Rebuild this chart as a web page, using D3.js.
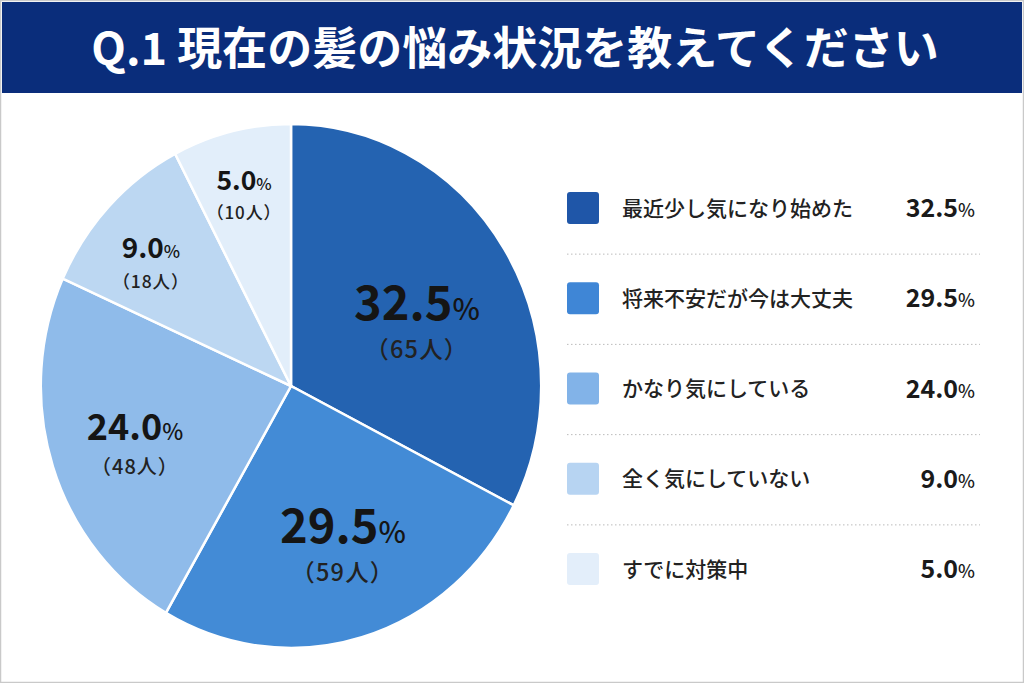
<!DOCTYPE html>
<html><head><meta charset="utf-8">
<script src="https://cdn.jsdelivr.net/npm/d3@7"></script>
<style>
html,body{margin:0;padding:0;background:#fff;}
svg{display:block;}
text{font-family:"Noto Sans CJK JP","Noto Sans",sans-serif;}
</style></head>
<body>
<svg id="chart" width="1024" height="683"></svg>
<script>
const title = "Q.1 現在の髪の悩み状況を教えてください";
const categories = ["最近少し気になり始めた","将来不安だが今は大丈夫","かなり気にしている","全く気にしていない","すでに対策中"];
const percents = [32.5, 29.5, 24.0, 9.0, 5.0];
const counts = [65, 59, 48, 18, 10];
// slice sizes as actually drawn in the reference picture (degrees)
const drawnDegrees = [117.1, 92.9, 84.2, 38.2, 27.6];
const sliceColors = ["#2463b1","#438bd6","#8fbbea","#bcd7f2","#e2eefa"];
const legendColors = ["#1f56a8","#3f86d6","#82b3e8","#b7d4f2","#e3eefa"];

const svg = d3.select("#chart");
const W = 1024, H = 683;

svg.append("rect").attr("x",0.5).attr("y",0.5).attr("width",W-1).attr("height",H-1)
  .attr("fill","#fff").attr("stroke","#c9c9c9").attr("stroke-width",1.5);
svg.append("rect").attr("x",2).attr("y",2).attr("width",W-4).attr("height",91).attr("fill","#0a2d7b");
svg.append("text").attr("x",515).attr("y",65).attr("text-anchor","middle")
  .attr("fill","#fff").attr("font-size",45).attr("font-weight",700).text(title);

// pie
const cx = 291, cy = 386, R = 262, sx = 0.955;
const pie = d3.pie().sort(null).value(d=>d)(drawnDegrees);
const arc = d3.arc().innerRadius(0).outerRadius(R);
const g = svg.append("g").attr("transform",`translate(${cx},${cy}) scale(${sx},1)`);
g.selectAll("path").data(pie).enter().append("path")
  .attr("d",arc).attr("fill",(d,i)=>sliceColors[i])
  .attr("stroke","#fff").attr("stroke-width",2.5).attr("vector-effect","non-scaling-stroke");

// label layout tweaks (angle offset in degrees, radius fraction, font sizes, line gap)
const lblAngle = [4.85, -2.65, -0.4, -2.2, -0.3];
const lblRad = [0.563, 0.634, 0.657, 0.743, 0.77];
const bigSize = [47, 47, 36, 28, 26.5];
const subSize = [23.5, 23.5, 20, 17.5, 17];
const lineGap = [38, 38, 34, 30, 28.5];
const lg = svg.append("g");
pie.forEach((d,i)=>{
  const a = (d.startAngle + d.endAngle)/2 + lblAngle[i]*Math.PI/180;
  const r = R*lblRad[i];
  const x = cx + sx*r*Math.sin(a), y = cy - r*Math.cos(a);
  const t = lg.append("text").attr("x",x).attr("y",y).attr("text-anchor","middle")
    .attr("fill","#151515").attr("font-weight",700);
  t.append("tspan").attr("font-size",bigSize[i]).text(d3.format(".1f")(percents[i]));
  t.append("tspan").attr("font-size",bigSize[i]*0.62).attr("font-weight",500).text("%");
  lg.append("text").attr("x",x).attr("y",y + lineGap[i]).attr("text-anchor","middle")
    .attr("fill","#222").attr("font-size",subSize[i]).attr("font-weight",500)
    .attr("letter-spacing", subSize[i]*0.05)
    .text(`（${counts[i]}人）`);
});

// legend
const ly = d3.scalePoint().domain(categories).range([208, 569]);
const leg = svg.append("g");
categories.forEach((c,i)=>{
  const y = ly(c);
  leg.append("rect").attr("x",567).attr("y",y-16).attr("width",32).attr("height",32)
    .attr("rx",3).attr("fill",legendColors[i]);
  leg.append("text").attr("x",622).attr("y",y+7.5).attr("font-size",21).attr("fill","#222")
    .attr("font-weight",500).text(c);
  const t = leg.append("text").attr("x",975).attr("y",y+9).attr("text-anchor","end").attr("fill","#1a1a1a");
  t.append("tspan").attr("font-size",25).attr("font-weight",700).text(d3.format(".1f")(percents[i]));
  t.append("tspan").attr("font-size",18).attr("font-weight",500).text("%");
  if(i < categories.length-1){
    const my = (y + ly(categories[i+1]))/2 + 1;
    leg.append("line").attr("x1",567).attr("x2",980).attr("y1",my).attr("y2",my)
      .attr("stroke","#bbb").attr("stroke-width",1).attr("stroke-dasharray","1.5,2.5");
  }
});
</script>
</body></html>
